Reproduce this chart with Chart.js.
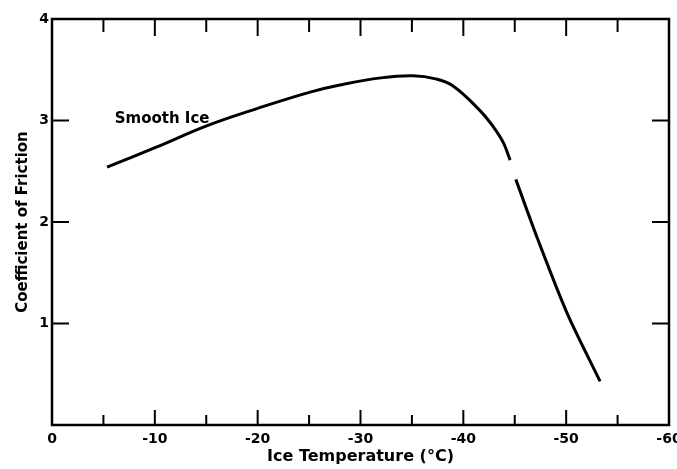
<!DOCTYPE html>
<html><head><meta charset="utf-8">
<script src="https://cdn.jsdelivr.net/npm/chart.js@4/dist/chart.umd.min.js"></script>
<style>html,body{margin:0;padding:0;background:#fff}#wrap{width:677px;height:469px}</style>
</head><body><div id="wrap"><canvas id="c" width="677" height="469"></canvas></div>
<script>
// Data
const tempUpper = [-5.35, -10.2, -15.1, -20.0, -25.1, -28.0, -32.0, -35.1, -37.3, -39.0, -41.6, -42.9, -43.9, -44.55];
const fricUpper = [2.54, 2.74, 2.95, 3.12, 3.28, 3.35, 3.42, 3.44, 3.41, 3.34, 3.10, 2.94, 2.78, 2.61];
const tempLower = [-45.1, -47.2, -50.1, -53.3];
const fricLower = [2.42, 1.84, 1.10, 0.43];
const xTicks = [0, -10, -20, -30, -40, -50, -60];
const yTicks = [0, 1, 2, 3, 4];
const seriesLabel = "Smooth Ice";

const toPts = (xs, ys) => xs.map((x, i) => ({x: x, y: ys[i]}));
const FONT = "'DejaVu Sans', sans-serif";

const framePlugin = {
  id: 'frame',
  afterDraw(chart) {
    const {ctx, chartArea: a, scales} = chart;
    const xs = scales.x, ys = scales.y;
    ctx.save();
    ctx.strokeStyle = '#000';
    ctx.lineWidth = 2.5;
    ctx.strokeRect(a.left, a.top, a.right - a.left, a.bottom - a.top);
    ctx.lineWidth = 2;
    ctx.beginPath();
    for (let v = -5; v > -60; v -= 5) {
      const px = xs.getPixelForValue(v);
      const major = v % 10 === 0;
      const lb = major ? 15 : 10, lt = major ? 17 : 13;
      ctx.moveTo(px, a.bottom); ctx.lineTo(px, a.bottom - lb);
      ctx.moveTo(px, a.top); ctx.lineTo(px, a.top + lt);
    }
    for (let v = 1; v < 4; v++) {
      const py = ys.getPixelForValue(v);
      ctx.moveTo(a.left, py); ctx.lineTo(a.left + 17, py);
      ctx.moveTo(a.right, py); ctx.lineTo(a.right - 17, py);
    }
    ctx.stroke();
    // series label
    ctx.fillStyle = '#000';
    ctx.font = "bold 15px " + FONT;
    ctx.textAlign = 'left';
    ctx.textBaseline = 'middle';
    ctx.fillText(seriesLabel, xs.getPixelForValue(-6.1), ys.getPixelForValue(3.01));
    ctx.restore();
  }
};

new Chart(document.getElementById('c'), {
  type: 'scatter',
  data: {
    datasets: [
      {data: toPts(tempUpper, fricUpper), showLine: true, borderColor: '#000', borderWidth: 3, pointRadius: 0, tension: 0.4, fill: false},
      {data: toPts(tempLower, fricLower), showLine: true, borderColor: '#000', borderWidth: 3, pointRadius: 0, tension: 0.3, fill: false}
    ]
  },
  options: {
    responsive: false,
    animation: false,
    layout: {padding: {top: 19, right: 8, left: 0, bottom: 0}},
    plugins: {legend: {display: false}, tooltip: {enabled: false}},
    scales: {
      x: {
        type: 'linear', min: -60, max: 0, reverse: true,
        afterBuildTicks: s => { s.ticks = xTicks.map(v => ({value: v})); },
        afterFit: s => { s.height = 44; s.paddingLeft = 0; s.paddingRight = 0; },
        grid: {display: false, drawTicks: false},
        border: {display: false},
        ticks: {color: '#000', font: {family: FONT, size: 14, weight: 'bold'}, padding: 6, maxRotation: 0, autoSkip: false,
                callback: v => v === 0 ? '0' : String(v)},
        title: {display: true, text: 'Ice Temperature (°C)', color: '#000', font: {family: FONT, size: 16, weight: 'bold'}, padding: {top: 0, bottom: 3}}
      },
      y: {
        type: 'linear', min: 0, max: 4,
        afterBuildTicks: s => { s.ticks = yTicks.map(v => ({value: v})); },
        afterFit: s => { s.width = 52; s.paddingTop = 0; s.paddingBottom = 0; },
        grid: {display: false, drawTicks: false},
        border: {display: false},
        ticks: {color: '#000', font: {family: FONT, size: 14, weight: 'bold'}, padding: 3,
                callback: v => v === 0 ? '' : String(v)},
        title: {display: true, text: 'Coefficient of Friction', color: '#000', font: {family: FONT, size: 15, weight: 'bold'}, padding: {top: 14, bottom: 0}}
      }
    }
  },
  plugins: [framePlugin]
});
</script>
</body></html>
